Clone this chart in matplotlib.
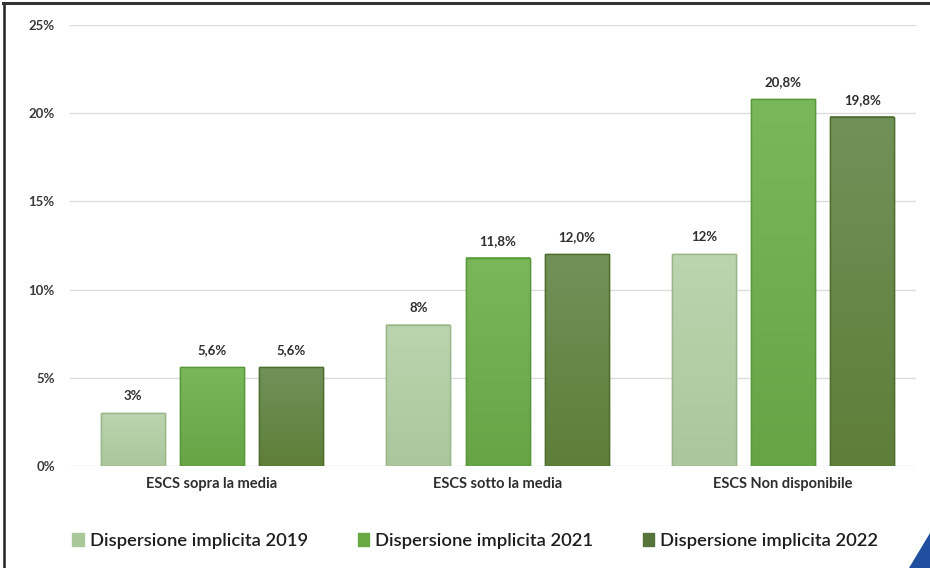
import numpy as np
import matplotlib.pyplot as plt
from matplotlib.colors import LinearSegmentedColormap
from matplotlib.patches import Polygon, Patch
from matplotlib.lines import Line2D

plt.rcParams['font.family'] = ['Lato', 'DejaVu Sans']

categories = ["ESCS sopra la media", "ESCS sotto la media", "ESCS Non disponibile"]
series = ["Dispersione implicita 2019", "Dispersione implicita 2021", "Dispersione implicita 2022"]
val_2019 = [3.0, 8.0, 12.0]
val_2021 = [5.6, 11.8, 20.8]
val_2022 = [5.6, 12.0, 19.8]
labels_2019 = ["3%", "8%", "12%"]
labels_2021 = ["5,6%", "11,8%", "20,8%"]
labels_2022 = ["5,6%", "12,0%", "19,8%"]
yticks = [0, 5, 10, 15, 20, 25]
ytick_labels = ["0%", "5%", "10%", "15%", "20%", "25%"]

# (top, bottom, edge, legend) colours for each year
shades = [
    ("#bcd4af", "#abc69b", "#98b688", "#a9c899"),
    ("#7ab75b", "#67a446", "#58983a", "#6aaa45"),
    ("#71915a", "#5e7e39", "#4e6d2d", "#56753a"),
]

fig = plt.figure(figsize=(9.3, 5.68), dpi=100)
ax = fig.add_axes([0.0753, 0.1796, 0.910, 0.7764])

x = np.arange(len(categories))
width = 0.224
step = 0.277
grad = np.linspace(0, 1, 64).reshape(-1, 1)

all_vals = [val_2019, val_2021, val_2022]
all_labels = [labels_2019, labels_2021, labels_2022]
for i, (vals, labs) in enumerate(zip(all_vals, all_labels)):
    top, bottom, edge, _ = shades[i]
    cmap = LinearSegmentedColormap.from_list("g%d" % i, [top, bottom])
    bars = ax.bar(x + (i - 1) * step, vals, width, color=bottom,
                  edgecolor=edge, linewidth=1.0, zorder=2)
    for b, lab in zip(bars, labs):
        bx, bw, bh = b.get_x(), b.get_width(), b.get_height()
        ax.imshow(grad, cmap=cmap, aspect='auto', zorder=2.5,
                  extent=(bx, bx + bw, 0, bh), interpolation='bilinear')
        ax.add_patch(plt.Rectangle((bx, 0), bw, bh, fill=False,
                                   edgecolor=edge, linewidth=1.0, zorder=3))
        ax.annotate(lab, (bx + bw / 2, bh), xytext=(0, 8), textcoords='offset points',
                    ha='center', va='bottom', fontsize=9.5, fontweight='bold', color='#2e2e2e')

ax.set_xlim(-0.497, 2.466)
ax.set_ylim(0, 25)
ax.set_yticks(yticks)
ax.set_yticklabels(ytick_labels, fontsize=9.5, fontweight='bold', color='#3a3a3a')
ax.set_xticks(x)
ax.set_xticklabels(categories, fontsize=10.5, fontweight='bold', color='#2e2e2e')
ax.tick_params(length=0)
ax.tick_params(axis='y', pad=11)
ax.tick_params(axis='x', pad=8)
ax.grid(axis='y', color='#dcdcdc', linewidth=1.0, zorder=0)
for s in ax.spines.values():
    s.set_visible(False)

handles = [Patch(facecolor=sh[3], edgecolor=sh[3]) for sh in shades]
fig.legend(handles, series, loc='center', bbox_to_anchor=(0.511, 0.0475), ncol=3,
           frameon=False, handlelength=0.65, handleheight=0.65,
           handletextpad=0.3, columnspacing=2.7, labelcolor='#1e1e1e',
           prop={'weight': 'semibold', 'size': 13.2})

# frame and corner decoration
fig.add_artist(Line2D([0.004, 0.004], [0, 0.995], color='#222222', linewidth=1.8))
fig.add_artist(Line2D([0.003, 1.0], [0.994, 0.994], color='#333333', linewidth=2.2))
fig.add_artist(Polygon([[0.977, 0.0], [1.0, 0.0], [1.0, 0.062]], closed=True,
                       facecolor='#1f4f9e', edgecolor='none'))

fig.savefig("out.png", dpi=100)
